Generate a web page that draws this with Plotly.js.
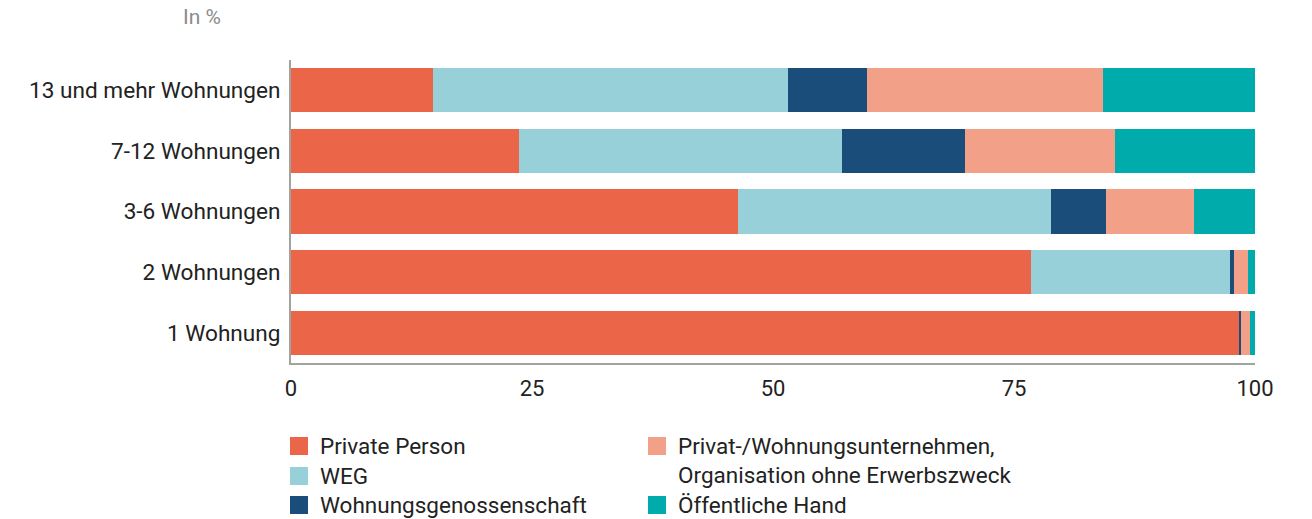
<!DOCTYPE html>
<html>
<head>
<meta charset="utf-8">
<script src="https://cdn.plot.ly/plotly-3.0.1.min.js"></script>
<style>
  html, body { margin: 0; padding: 0; background: #fff; }
  #chart { width: 1312px; height: 519px; }
</style>
</head>
<body>
<div id="chart"></div>
<script>
// Categories (bottom to top)
const categories = ["1 Wohnung", "2 Wohnungen", "3-6 Wohnungen", "7-12 Wohnungen", "13 und mehr Wohnungen"];

// Series values (percent), same order as categories
const privatePerson      = [98.3, 76.8, 46.4, 23.7, 14.7];
const weg                = [0.0, 20.6, 32.4, 33.5, 36.9];
const genossenschaft     = [0.2, 0.4, 5.7, 12.7, 8.2];
const privatUnternehmen  = [1.0, 1.5, 9.2, 15.6, 24.4];
const oeffentlicheHand   = [0.5, 0.7, 6.3, 14.5, 15.8];

const seriesNames = [
  "Private Person",
  "WEG",
  "Wohnungsgenossenschaft",
  "Privat-/Wohnungsunternehmen,<br>Organisation ohne Erwerbszweck",
  "Öffentliche Hand"
];
const seriesValues = [privatePerson, weg, genossenschaft, privatUnternehmen, oeffentlicheHand];
const seriesColors = ["#EB6649", "#98D0D9", "#1A4D7A", "#F3A088", "#00ABAB"];

const xTickVals = [0, 25, 50, 75, 100];
const xTickText = ["0", "25", "50", "75", "100"];

const W = 1312, H = 519;
const M = { l: 291, r: 57, t: 60, b: 156 };
const plotW = W - M.l - M.r, plotH = H - M.t - M.b;
const px = x => (x - M.l) / plotW;
const py = y => (H - M.b - y) / plotH;

const traces = seriesNames.map((name, i) => ({
  type: "bar",
  orientation: "h",
  name: name,
  y: categories,
  x: seriesValues[i],
  marker: { color: seriesColors[i], line: { width: 0 } },
  hoverinfo: "skip",
  showlegend: false
}));

// Custom two-column legend
const legendItems = [
  { s: 0, col: 0, row: 0 },
  { s: 1, col: 0, row: 1 },
  { s: 2, col: 0, row: 2 },
  { s: 3, col: 1, row: 0 },
  { s: 4, col: 1, row: 2 }
];
const colX = [290, 648];
const rowY = [446, 476, 505];
const shapes = [];
const annotations = [];
legendItems.forEach(it => {
  const x0 = colX[it.col], yc = rowY[it.row];
  shapes.push({
    type: "rect", xref: "paper", yref: "paper",
    x0: px(x0), x1: px(x0 + 18), y0: py(yc + 9), y1: py(yc - 9),
    fillcolor: seriesColors[it.s], line: { width: 0 }
  });
  annotations.push({
    xref: "paper", yref: "paper", x: px(x0 + 28), y: py(yc - 15),
    xanchor: "left", yanchor: "top", align: "left",
    text: seriesNames[it.s], showarrow: false,
    font: { family: "Roboto, sans-serif", size: 22.5, color: "#222" }
  });
});
annotations.push({
  xref: "paper", yref: "paper", x: px(202), y: py(17),
  xanchor: "center", yanchor: "middle",
  text: "In %", showarrow: false,
  font: { family: "Roboto, sans-serif", size: 21, color: "#8c8c8c" }
});

const layout = {
  width: W, height: H,
  margin: M,
  paper_bgcolor: "#fff", plot_bgcolor: "#fff",
  barmode: "stack",
  bargap: 0.27,
  showlegend: false,
  font: { family: "Roboto, sans-serif", size: 22, color: "#222" },
  xaxis: {
    range: [0, 100],
    tickvals: xTickVals, ticktext: xTickText,
    showgrid: false, zeroline: false,
    showline: true, linecolor: "#a3a39e", linewidth: 2,
    ticks: "", ticklabelstandoff: 5,
    tickfont: { family: "Roboto, sans-serif", size: 22, color: "#222" },
    fixedrange: true
  },
  yaxis: {
    type: "category",
    categoryorder: "array", categoryarray: categories,
    range: [-0.5, 4.5],
    showgrid: false, zeroline: false,
    showline: true, linecolor: "#a3a39e", linewidth: 2,
    ticks: "", ticklabelstandoff: 4,
    tickfont: { family: "Roboto, sans-serif", size: 22.6, color: "#222" },
    fixedrange: true
  },
  shapes: shapes,
  annotations: annotations
};

Plotly.newPlot("chart", traces, layout, { displayModeBar: false, staticPlot: true });
</script>
</body>
</html>
